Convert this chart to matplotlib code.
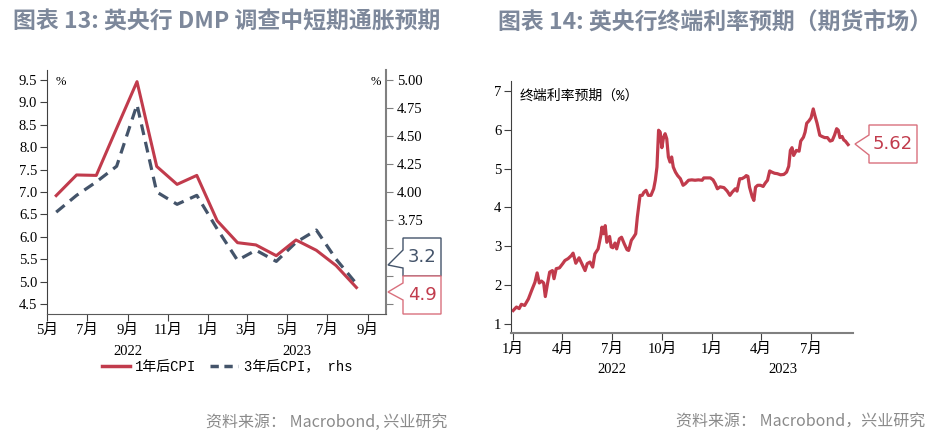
import matplotlib
matplotlib.use('Agg')
import matplotlib.pyplot as plt
from matplotlib.patches import Polygon
from matplotlib.lines import Line2D
import matplotlib.transforms as mtransforms
import numpy as np
import pandas as pd

# ---- data: BoE DMP survey (monthly) ----
dmp_months = ['2022-05', '2022-06', '2022-07', '2022-08', '2022-09', '2022-10',
              '2022-11', '2022-12', '2023-01', '2023-02', '2023-03', '2023-04',
              '2023-05', '2023-06', '2023-07', '2023-08']
cpi_1y = [6.92, 7.38, 7.37, 8.42, 9.46, 7.57, 7.17, 7.37, 6.36, 5.87, 5.82, 5.58,
          5.93, 5.70, 5.36, 4.87]
cpi_3y = [3.82, 3.97, 4.09, 4.23, 4.78, 4.00, 3.89, 3.97, 3.67, 3.39, 3.48, 3.38,
          3.55, 3.66, 3.40, 3.18]

# ---- data: terminal rate expectation (futures), days since 2022-01-01 ----
rate_day = [0, 6, 11, 15, 21, 28, 34, 40, 44, 48, 52, 56, 59, 63, 67, 72, 75, 79,
            85, 91, 95, 101, 107, 110, 115, 121, 126, 132, 136, 141, 146, 150, 156,
            161, 163, 166, 169, 172, 177, 180, 183, 187, 190, 195, 199, 204, 209,
            212, 217, 221, 225, 228, 233, 237, 240, 244, 248, 253, 258, 261, 264,
            267, 270, 273, 276, 279, 282, 285, 288, 291, 294, 298, 302, 307, 312,
            316, 322, 328, 334, 340, 347, 350, 356, 362, 367, 371, 375, 380, 387,
            393, 398, 402, 408, 411, 416, 420, 425, 428, 431, 434, 439, 442, 445,
            449, 454, 459, 463, 467, 471, 475, 480, 485, 491, 497, 502, 506, 509,
            512, 515, 520, 525, 528, 533, 536, 539, 543, 547, 551, 554, 558, 563,
            567, 572, 577, 582, 586, 590, 594, 597, 600, 604, 607, 610, 615]
rate_val = [1.34, 1.43, 1.39, 1.50, 1.47, 1.64, 1.86, 2.07, 2.31, 2.05, 2.10, 2.05,
            1.70, 2.03, 2.33, 2.37, 2.16, 2.42, 2.44, 2.55, 2.63, 2.68, 2.76, 2.82,
            2.56, 2.70, 2.55, 2.37, 2.55, 2.59, 2.46, 2.80, 2.93, 3.28, 3.49, 3.32,
            3.53, 3.10, 3.25, 2.98, 2.96, 3.08, 2.93, 3.19, 3.23, 3.06, 2.91, 2.89,
            3.15, 3.23, 3.32, 3.75, 4.31, 4.31, 4.39, 4.44, 4.31, 4.31, 4.48, 4.70,
            5.04, 5.99, 5.94, 5.54, 5.80, 5.90, 5.77, 5.30, 5.17, 5.30, 5.04, 4.91,
            4.82, 4.74, 4.57, 4.61, 4.70, 4.71, 4.70, 4.71, 4.70, 4.76, 4.76, 4.76,
            4.71, 4.61, 4.48, 4.53, 4.51, 4.42, 4.31, 4.39, 4.48, 4.42, 4.74, 4.74,
            4.78, 4.82, 4.80, 4.52, 4.27, 4.18, 4.52, 4.57, 4.57, 4.54, 4.63, 4.70,
            4.94, 4.91, 4.88, 4.87, 4.84, 4.85, 4.91, 5.06, 5.47, 5.54, 5.34, 5.47,
            5.45, 5.71, 5.81, 5.94, 6.17, 6.23, 6.31, 6.54, 6.37, 6.17, 5.86, 5.83,
            5.80, 5.80, 5.71, 5.73, 5.86, 6.03, 5.99, 5.80, 5.83, 5.74, 5.71, 5.62]

title_left = '图表 13: 英央行 DMP 调查中短期通胀预期'
title_right = '图表 14: 英央行终端利率预期（期货市场）'
source = '资料来源： Macrobond, 兴业研究'
source_right = '资料来源： Macrobond，兴业研究'

RED = '#c13b4c'
SLATE = '#44546a'
TITLE_C = '#7d889b'
W, H = 935, 441

plt.rcParams['font.family'] = ['Liberation Serif', 'Noto Sans CJK SC', 'DejaVu Sans']
plt.rcParams['font.size'] = 10

fig = plt.figure(figsize=(W / 100, H / 100), dpi=100)


def fbox(x0, y0, x1, y1):
    # pixel box (top-left origin) -> figure fraction rect
    return [x0 / W, 1 - y1 / H, (x1 - x0) / W, (y1 - y0) / H]


def callout(x0, y0, x1, y1, tip, n0, n1, text, ec, tc):
    pts = [(x0, y0), (x1, y0), (x1, y1), (x0, y1), (x0, n1), tip, (x0, n0)]
    pts = [(px / W, 1 - py / H) for px, py in pts]
    fig.patches.append(Polygon(pts, closed=True, transform=fig.transFigure,
                               facecolor='white', edgecolor=ec, lw=1.0))
    fig.text((x0 + x1) / 2 / W, 1 - (y0 + y1) / 2 / H, text, ha='center',
             va='center', color=tc, fontsize=13, family='DejaVu Sans')


# ================= left chart =================
ax = fig.add_axes(fbox(47, 70, 386, 314))
ax2 = ax.twinx()
x_dmp = pd.to_datetime(dmp_months) + pd.Timedelta(days=14)
ax.plot(x_dmp, cpi_1y, color=RED, lw=2.2, zorder=3)
ax2.plot(x_dmp, cpi_3y, color=SLATE, lw=2.3, dashes=(3.4, 2.2))
ax.set_zorder(ax2.get_zorder() + 1)
ax.patch.set_visible(False)

x0l, x1l = pd.Timestamp('2022-05-01'), pd.Timestamp('2023-09-29')
ax.set_xlim(x0l, x1l)
ax.set_ylim(4.28, 9.72)
ax2.set_ylim(2.91, 5.09)
ax.set_yticks(np.arange(4.5, 9.51, 0.5))
ax.set_yticklabels([f'{v:.1f}' for v in np.arange(4.5, 9.51, 0.5)])
rt = np.arange(3.0, 5.01, 0.25)
ax2.set_yticks(rt)
ax2.set_yticklabels(['' if v < 3.7 else f'{v:.2f}' for v in rt])
mt = pd.date_range('2022-05-01', '2023-09-01', freq='2MS')
ax.set_xticks(mt)
ax.set_xticklabels([f'{m.month}月' for m in mt])
for a in (ax, ax2):
    a.spines['top'].set_visible(False)
ax.spines['right'].set_visible(False)
ax.spines['left'].set_color('#404040')
ax.spines['bottom'].set_color('#595959')
ax2.spines['left'].set_visible(False)
ax2.spines['bottom'].set_visible(False)
ax2.spines['right'].set_color('#808080')
ax2.spines['right'].set_linewidth(1.5)
ax.tick_params(axis='both', length=5, color='#404040', labelsize=10.5, pad=2)
ax2.tick_params(axis='y', length=5, color='#808080', labelsize=10.5, pad=3)
ax.text(0.025, 0.975, '%', transform=ax.transAxes, fontsize=9, va='top')
ax2.text(0.985, 0.975, '%', transform=ax2.transAxes, fontsize=9, va='top', ha='right')

tr = mtransforms.blended_transform_factory(ax.transData, ax.transAxes)
y_mid = pd.Timestamp('2023-01-01')
ax.text(x0l + (y_mid - x0l) / 2, -0.155, '2022', transform=tr, ha='center', va='center',
        fontsize=10.5)
ax.text(y_mid + (x1l - y_mid) / 2, -0.155, '2023', transform=tr, ha='center', va='center',
        fontsize=10.5)

handles = [Line2D([], [], color=RED, lw=2.5),
           Line2D([], [], color=SLATE, lw=2.5, dashes=(2.4, 1.6))]
fig.legend(handles, ['1年后CPI', '3年后CPI， rhs'], loc='center',
           bbox_to_anchor=(227 / W, 1 - 367 / H), ncol=2, frameon=False,
           handlelength=2.0, handletextpad=0.4, columnspacing=1.0,
           prop={'family': ['Liberation Mono', 'Noto Sans CJK SC'], 'size': 10})

callout(403, 238, 441, 276, (388, 265), 250, 268, f'{cpi_3y[-1]:.1f}', SLATE, SLATE)
callout(403, 276, 441, 314, (388, 292), 283, 300, f'{cpi_1y[-1]:.1f}', '#d9707d', RED)

# ================= right chart =================
bx = fig.add_axes(fbox(511, 81, 853, 333))
x_rate = pd.Timestamp('2022-01-01') + pd.to_timedelta(rate_day, unit='D')
bx.plot(x_rate, rate_val, color=RED, lw=2.3)
x0r, x1r = pd.Timestamp('2021-12-28'), pd.Timestamp('2023-09-17')
bx.set_xlim(x0r, x1r)
bx.set_ylim(0.76, 7.26)
bx.set_yticks(range(1, 8))
qt = pd.date_range('2022-01-01', '2023-07-01', freq='3MS')
bx.set_xticks(qt)
bx.set_xticklabels([f'{m.month}月' for m in qt])
bx.spines['top'].set_visible(False)
bx.spines['right'].set_visible(False)
bx.spines['left'].set_color('#404040')
bx.spines['bottom'].set_color('#808080')
bx.spines['bottom'].set_linewidth(1.5)
bx.tick_params(axis='both', length=5, color='#404040', labelsize=10.5, pad=2)
bx.text(0.025, 0.97, '终端利率预期（%）', transform=bx.transAxes, va='top',
        family=['Liberation Mono', 'Noto Sans CJK SC'], fontsize=10)
trb = mtransforms.blended_transform_factory(bx.transData, bx.transAxes)
yb = pd.Timestamp('2023-01-01')
bx.text(x0r + (yb - x0r) / 2, -0.145, '2022', transform=trb, ha='center', va='center',
        fontsize=10.5)
bx.text(yb + (x1r - yb) / 2, -0.145, '2023', transform=trb, ha='center', va='center',
        fontsize=10.5)

callout(869, 125, 917, 163, (855, 144), 135, 155, f'{rate_val[-1]:.2f}', '#d9707d', RED)

# ---- titles and sources ----
for x, t in ((13, title_left), (498, title_right)):
    fig.text(x / W, 1 - 22 / H, t, ha='left', va='center', fontsize=16.5,
             fontweight='bold', color=TITLE_C, family=['Noto Sans CJK SC', 'DejaVu Sans'])
fig.text(447 / W, 1 - 422 / H, source, ha='right', va='center', fontsize=11.5,
         color='#8a8a8a', family=['Noto Sans CJK SC', 'DejaVu Sans'])
fig.text(925 / W, 1 - 422 / H, source_right, ha='right', va='center', fontsize=11.5,
         color='#8a8a8a', family=['Noto Sans CJK SC', 'DejaVu Sans'])

fig.savefig('out.png', dpi=100)
